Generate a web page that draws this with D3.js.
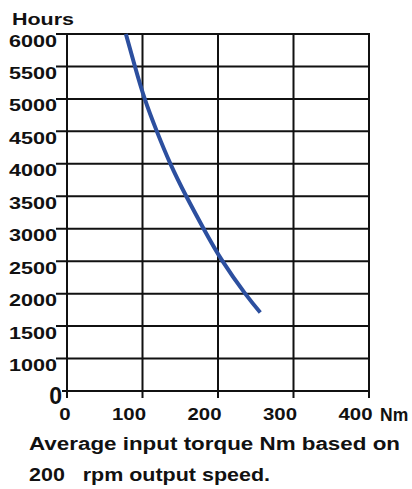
<!DOCTYPE html>
<html>
<head>
<meta charset="utf-8">
<script src="https://cdn.jsdelivr.net/npm/d3@7"></script>
<style>
  body { margin: 0; background: #fff; }
  svg { display: block; }
  text { font-family: "Liberation Sans", Arial, sans-serif; font-weight: bold; fill: #111; }
</style>
</head>
<body>
<svg id="chart" width="412" height="489"></svg>
<script>
(function () {
  "use strict";

  // curve
  const torque = [78, 90, 103, 119, 137, 158, 181, 206, 236, 256];
  const hours = [6000, 5500, 5000, 4500, 4000, 3500, 3000, 2500, 2000, 1710];

  const xTicks = [0, 100, 200, 300, 400];
  // the axis is broken: the bottom line sits one step below 1000 and is labelled 0
  const yTicks = [500, 1000, 1500, 2000, 2500, 3000, 3500, 4000, 4500, 5000, 5500, 6000];
  const yTickLabels = ["0", "1000", "1500", "2000", "2500", "3000", "3500", "4000", "4500", "5000", "5500", "6000"];

  const left = 67, right = 369, top = 34, bottom = 391;

  const svg = d3.select("#chart");
  const x = d3.scaleLinear().domain([0, 400]).range([left, right]);
  const y = d3.scaleLinear().domain([500, 6000]).range([bottom, top]);

  const grid = svg.append("g").attr("stroke", "#111").attr("stroke-width", 2);

  grid.selectAll("line.h")
    .data(yTicks)
    .enter()
    .append("line")
    .attr("class", "h")
    .attr("x1", (d) => (d === 500 ? 62 : 56))
    .attr("x2", right + 1)
    .attr("y1", (d) => y(d))
    .attr("y2", (d) => y(d));

  grid.selectAll("line.v")
    .data(xTicks)
    .enter()
    .append("line")
    .attr("class", "v")
    .attr("x1", (d) => x(d))
    .attr("x2", (d) => x(d))
    .attr("y1", top - 1)
    .attr("y2", bottom + 7);

  // y labels hang just under their grid line
  const yAxis = svg.append("g")
    .attr("transform", `translate(${left},0)`)
    .call(d3.axisLeft(y).tickValues(yTicks).tickSize(0).tickFormat((d, i) => yTickLabels[i]));
  yAxis.select(".domain").remove();
  yAxis.selectAll("text")
    .attr("fill", "#111")
    .attr("font-family", null)
    .attr("font-size", 16)
    .attr("dy", null)
    .attr("x", -7.4)
    .attr("y", 12)
    .attr("transform", "scale(1.35,1)");
  yAxis.selectAll("text")
    .filter((d) => d === 500)
    .attr("font-size", 23)
    .attr("x", -5)
    .attr("y", 12)
    .attr("transform", null);

  // x labels, right-aligned to the grid line
  const xAxis = svg.append("g")
    .attr("transform", `translate(0,${bottom})`)
    .call(d3.axisBottom(x).tickValues(xTicks).tickSize(0).tickFormat(d3.format("d")));
  xAxis.select(".domain").remove();
  xAxis.selectAll("text")
    .attr("fill", "#111")
    .attr("font-family", null)
    .attr("font-size", 17)
    .attr("text-anchor", "end")
    .attr("dy", null)
    .attr("x", 2.5)
    .attr("y", 29)
    .attr("transform", "scale(1.2,1)");

  const pts = torque.map((t, i) => [t, hours[i]]);
  svg.append("path")
    .datum(pts)
    .attr("fill", "none")
    .attr("stroke", "#2c4f9f")
    .attr("stroke-width", 4)
    .attr("d", d3.line().x((d) => x(d[0])).y((d) => y(d[1])).curve(d3.curveNatural));

  svg.append("text").attr("x", 12).attr("y", 25).attr("font-size", 16)
    .attr("textLength", 62).attr("lengthAdjust", "spacingAndGlyphs").text("Hours");
  svg.append("text").attr("x", 380).attr("y", 421).attr("font-size", 17.5).text("Nm");
  svg.append("text").attr("x", 29).attr("y", 450).attr("font-size", 18)
    .attr("textLength", 371).attr("lengthAdjust", "spacingAndGlyphs")
    .text("Average input torque Nm based on");
  svg.append("text").attr("x", 29).attr("y", 481).attr("font-size", 18)
    .attr("textLength", 241).attr("lengthAdjust", "spacingAndGlyphs")
    .style("white-space", "pre")
    .text("200   rpm output speed.");
})();
</script>
</body>
</html>
